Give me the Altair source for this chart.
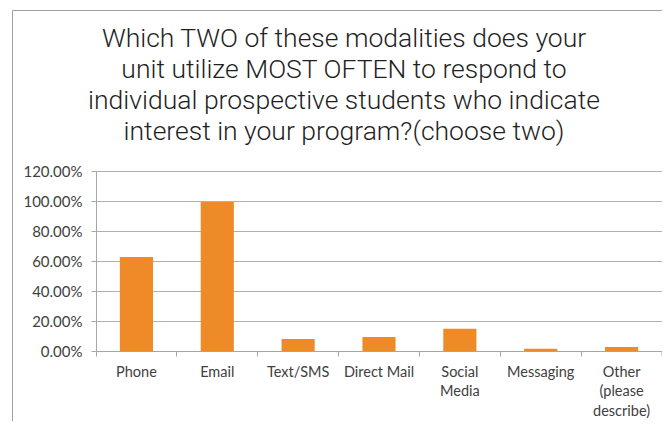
import altair as alt
import pandas as pd

categories = ["Phone", "Email", "Text/SMS", "Direct Mail", "Social Media", "Messaging", "Other (please describe)"]
values = [0.627, 0.993, 0.080, 0.093, 0.149, 0.015, 0.027]
title_lines = [
    "Which TWO of these modalities does your",
    "unit utilize MOST OFTEN to respond to",
    "individual prospective students who indicate",
    "interest in your program?(choose two)",
]

df = pd.DataFrame({"category": categories, "value": values})

W, H = 566, 180
PL, PT = 88, 163
OX, OY = 96, 171  # page position of the plot origin

x_enc = alt.X(
    "category:N",
    sort=categories,
    scale=alt.Scale(paddingInner=0, paddingOuter=0),
    axis=alt.Axis(
        title=None,
        labelAngle=0,
        bandPosition=0,
        grid=False,
        domainColor="#a6a6a6",
        tickColor="#a6a6a6",
        tickSize=5,
        labelFont="Lato",
        labelFontSize=14.5,
        labelColor="#404040",
        labelPadding=9,
        labelLineHeight=19.5,
        labelBaseline="top",
        labelExpr="datum.label == 'Social Media' ? ['Social', 'Media'] : datum.label == 'Other (please describe)' ? ['Other', '(please', 'describe)'] : datum.label",
    ),
)

y_enc = alt.Y(
    "value:Q",
    scale=alt.Scale(domain=[0, 1.2], nice=False),
    axis=alt.Axis(
        title=None,
        values=[0, 0.2, 0.4, 0.6, 0.8, 1.0, 1.2],
        format=".2%",
        grid=True,
        gridColor="#b0b0b0",
        domainColor="#a6a6a6",
        tickColor="#a6a6a6",
        tickSize=5,
        labelFont="Lato",
        labelFontSize=15,
        labelColor="#404040",
        labelPadding=9,
    ),
)

bars = alt.Chart(df).mark_bar(color="#EE8B28", width=alt.RelativeBandSize(0.41)).encode(x=x_enc, y=y_enc)

one = pd.DataFrame({"a": [0]})

end_tick = alt.Chart(one).mark_rule(color="#a6a6a6").encode(
    x=alt.value(W), y=alt.value(H), y2=alt.value(H + 5)
)

frame = alt.Chart(one).mark_rect(
    fill=None, fillOpacity=0, stroke="#a0a0a0", strokeWidth=1
).encode(
    x=alt.value(12 - OX + 0.5), y=alt.value(10 - OY + 0.5), x2=alt.value(W + 60), y2=alt.value(H + 120)
)

title = alt.Chart(one).mark_text(
    font="Roboto",
    fontSize=26.5,
    fontWeight=300,
    color="#1f1f1f",
    lineHeight=31,
    align="center",
    baseline="alphabetic",
    lineBreak="\n",
).encode(
    x=alt.value(344 - OX),
    y=alt.value(47 - OY),
    text=alt.value("\n".join(title_lines)),
)

chart = alt.layer(frame, bars, end_tick, title).properties(
    width=W,
    height=H,
    autosize=alt.AutoSizeParams(type="none"),
    padding={"left": PL, "top": PT, "right": 0, "bottom": 70},
).configure_view(stroke=None)

chart.save("out.html", embed_options={"renderer": "svg", "actions": False})
